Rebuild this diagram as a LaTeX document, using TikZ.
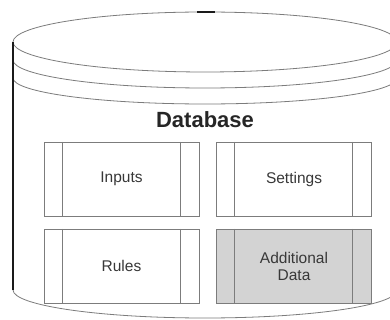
\documentclass[tikz,border=0pt]{standalone}
\usepackage{fontspec}
\setmainfont{Liberation Sans}
\usepackage{xcolor}
\definecolor{baseTrait}{HTML}{7C7C7C}
\definecolor{baseBord}{HTML}{1A1A1A}
\definecolor{baseTexte}{HTML}{383838}
\definecolor{baseGris}{HTML}{D3D3D3}
\usepackage{tikz}
\tikzset{
  %% ── Boxes ────────────────────────────────────────────────────────────
  %% Each drawer of the store carries two inner rails near its sides.
  bloc/.style     = {draw=baseTrait, line width=0.8pt, fill=white,
                     text=baseTexte, align=center, inner sep=0pt,
                     font=\fontsize{15.5}{17}\selectfont,
                     minimum width=155pt, minimum height=74pt,
                     path picture={
                       \draw[baseTrait, line width=0.8pt]
                         ([xshift=18pt]path picture bounding box.north west)
                         -- ([xshift=18pt]path picture bounding box.south west)
                         ([xshift=-19pt]path picture bounding box.north east)
                         -- ([xshift=-19pt]path picture bounding box.south east);}},
  blocGris/.style = {bloc, fill=baseGris},
  %%
  %% ── Lines and text ───────────────────────────────────────────────────
  trait/.style     = {draw=baseTrait, line width=0.8pt},
  traitFort/.style = {draw=baseBord, line width=1.4pt},
  titreBase/.style = {font=\bfseries\fontsize{22}{24}\selectfont,
                      text=black!85},
}

\begin{document}
\begin{tikzpicture}[x=1pt, y=1pt]

\fill[white] (0,0) rectangle (390,320);
\clip (0,0) rectangle (390,320);

%% cylinder: lid, two rims, body
\draw[trait] (205,278) ellipse [x radius=192, y radius=30];
\draw[trait] (13,260) arc[start angle=180, end angle=360, x radius=192, y radius=28];
\draw[trait] (13,242) arc[start angle=180, end angle=360, x radius=192, y radius=26];
\draw[trait] (13,30) arc[start angle=180, end angle=360, x radius=192, y radius=28];
\draw[trait] (397,30) -- (397,278);
\draw[traitFort] (13,30) -- (13,278);
\draw[traitFort] (197,308) -- (215,308);

\node[titreBase] (titre) at (205,200) {Database};

\node[bloc]     (inputs)     at (121.5,141) {Inputs};
\node[bloc]     (settings)   at (294,141)   {Settings};
\node[bloc]     (rules)      at (121.5,54)  {Rules};
\node[blocGris] (additional) at (294,54)    {Additional\\Data};

\end{tikzpicture}
\end{document}
